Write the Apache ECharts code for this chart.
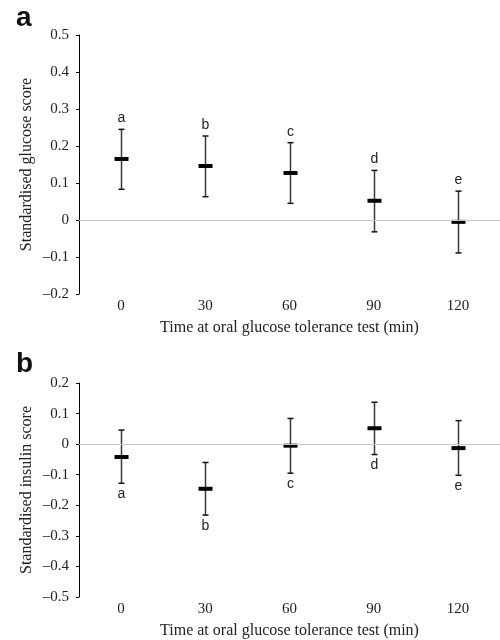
<!DOCTYPE html>
<html><head><meta charset="utf-8">
<script src="https://cdn.jsdelivr.net/npm/echarts@6/dist/echarts.min.js"></script>
<style>html,body{margin:0;padding:0;background:#fff}#c{width:500px;height:640px}</style>
</head><body><div id="c"></div>
<script>
const categories = ['0', '30', '60', '90', '120'];
const pointLabels = ['a', 'b', 'c', 'd', 'e'];
const glucoseMean = [0.165, 0.146, 0.127, 0.052, -0.005];
const glucoseLow  = [0.083, 0.063, 0.045, -0.032, -0.089];
const glucoseHigh = [0.245, 0.227, 0.209, 0.134, 0.078];
const insulinMean = [-0.042, -0.146, -0.005, 0.052, -0.013];
const insulinLow  = [-0.128, -0.232, -0.095, -0.034, -0.102];
const insulinHigh = [0.046, -0.060, 0.084, 0.137, 0.077];
const glucoseRange = [-0.2, 0.5];
const insulinRange = [-0.5, 0.2];
const tickStep = 0.1;
const xTitle = 'Time at oral glucose tolerance test (min)';
const glucoseTitle = 'Standardised glucose score';
const insulinTitle = 'Standardised insulin score';

const serif = '"Liberation Serif", "DejaVu Serif", serif';
const sans = '"Liberation Sans", Arial, sans-serif';

function fmt(v) {
  const r = Math.round(v * 10) / 10;
  if (Math.abs(r) < 1e-9) return '0';
  return (r < 0 ? '\u2013' : '') + Math.abs(r).toFixed(1);
}

function makeRender(above) {
  return function (params, api) {
    const i = api.value(0);
    const lo = api.coord([i, api.value(1)]);
    const hi = api.coord([i, api.value(2)]);
    const mid = api.coord([i, api.value(3)]);
    const cx = Math.round(lo[0]) + 0.5;
    return {
      type: 'group',
      children: [
        { type: 'line', shape: { x1: cx, y1: hi[1], x2: cx, y2: lo[1] }, style: { stroke: '#3a3a3a', lineWidth: 1.5 } },
        { type: 'line', shape: { x1: cx - 3, y1: hi[1], x2: cx + 3, y2: hi[1] }, style: { stroke: '#111', lineWidth: 1.5 } },
        { type: 'line', shape: { x1: cx - 3, y1: lo[1], x2: cx + 3, y2: lo[1] }, style: { stroke: '#111', lineWidth: 1.5 } },
        { type: 'rect', shape: { x: cx - 7, y: mid[1] - 2, width: 14, height: 4 }, style: { fill: '#000' } },
        { type: 'text', x: cx, y: above ? hi[1] - 11 : lo[1] + 11,
          style: { text: pointLabels[params.dataIndex], fill: '#222', font: '14px ' + sans, align: 'center', verticalAlign: 'middle' } }
      ]
    };
  };
}

function build(mean, low, high) {
  return mean.map((m, i) => [i, low[i], high[i], m]);
}

function xAxis(gridIndex) {
  return {
    type: 'category', gridIndex, data: categories, boundaryGap: true,
    axisLine: { lineStyle: { color: '#000', width: 1 } },
    axisTick: { show: false },
    axisLabel: { color: '#222', fontFamily: serif, fontSize: 15, margin: 5 },
    name: xTitle, nameLocation: 'middle', nameGap: 26, nameMoveOverlap: false,
    nameTextStyle: { color: '#222', fontFamily: serif, fontSize: 16 },
    splitLine: { show: false }
  };
}
function yAxis(gridIndex, range, title) {
  return {
    type: 'value', gridIndex, min: range[0], max: range[1], interval: tickStep,
    axisLine: { show: true, lineStyle: { color: '#000', width: 1 } },
    axisTick: { show: true, length: 3, lineStyle: { color: '#000' } },
    axisLabel: { color: '#222', fontFamily: serif, fontSize: 15, margin: 10, formatter: fmt },
    splitLine: { show: false },
    name: title, nameLocation: 'middle', nameGap: 44, nameMoveOverlap: false,
    nameTextStyle: { color: '#222', fontFamily: serif, fontSize: 16 }
  };
}

const zeroLine = {
  silent: true, symbol: 'none', label: { show: false },
  lineStyle: { color: '#c8c8c8', width: 1, type: 'solid' },
  data: [{ yAxis: 0 }]
};

const chart = echarts.init(document.getElementById('c'), null, { renderer: 'canvas' });
chart.setOption({
  animation: false,
  backgroundColor: '#fff',
  grid: [
    { left: 79, top: 35, width: 428, height: 259 },
    { left: 79, top: 383, width: 428, height: 217 }
  ],
  xAxis: [xAxis(0), xAxis(1)],
  yAxis: [yAxis(0, glucoseRange, glucoseTitle), yAxis(1, insulinRange, insulinTitle)],
  graphic: [
    { type: 'text', left: 16, top: 4, style: { text: 'a', font: 'bold 28px ' + sans, fill: '#111' } },
    { type: 'text', left: 16, top: 350, style: { text: 'b', font: 'bold 28px ' + sans, fill: '#111' } }
  ],
  series: [
    { type: 'custom', xAxisIndex: 0, yAxisIndex: 0, clip: false, renderItem: makeRender(true),
      data: build(glucoseMean, glucoseLow, glucoseHigh), markLine: zeroLine, z: 3 },
    { type: 'custom', xAxisIndex: 1, yAxisIndex: 1, clip: false, renderItem: makeRender(false),
      data: build(insulinMean, insulinLow, insulinHigh), markLine: zeroLine, z: 3 }
  ]
});
</script></body></html>
